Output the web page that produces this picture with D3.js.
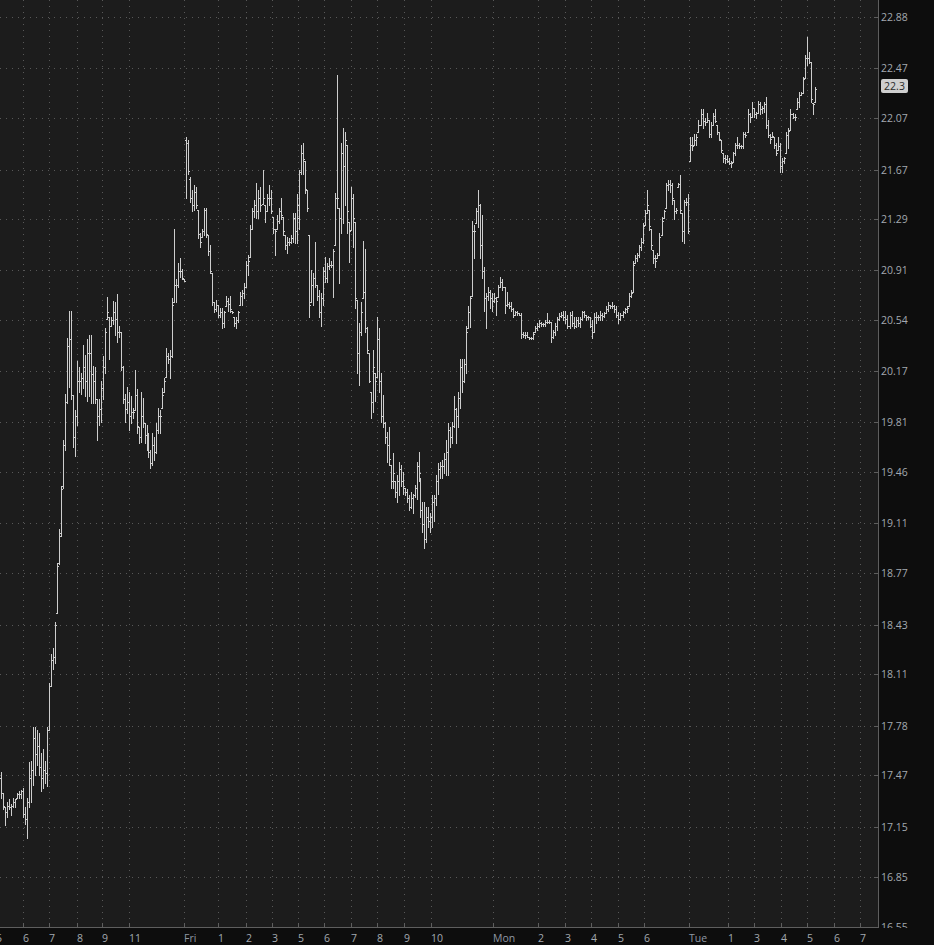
<!DOCTYPE html>
<html>
<head>
<meta charset="utf-8">
<style>
  html, body { margin: 0; padding: 0; background: #0d0d0d; }
  svg { display: block; }
  text { font-family: "Open Sans", sans-serif; }
</style>
<script src="https://cdn.jsdelivr.net/npm/d3@7"></script>
</head>
<body>
<script>
// 5-minute bars
const highs = [
  17.49,17.36,17.27,17.30,17.32,17.29,17.33,17.32,17.36,17.37,
  17.38,17.39,17.27,17.33,17.55,17.56,17.77,17.77,17.75,17.73,
  17.61,17.63,17.56,17.77,18.05,18.24,18.28,18.45,18.84,19.07,
  19.36,19.68,20.01,20.41,20.61,20.61,20.00,19.89,20.24,20.20,
  20.16,20.36,20.29,20.40,20.43,20.43,20.21,20.20,19.97,19.97,
  20.10,20.28,20.48,20.71,20.56,20.56,20.68,20.67,20.73,20.50,
  20.45,20.21,20.01,20.06,20.02,19.99,19.91,20.18,20.04,19.77,
  20.02,19.98,19.80,19.79,19.73,19.61,19.73,19.70,19.80,19.91,
  19.89,20.05,20.12,20.34,20.30,20.32,20.70,21.22,20.84,20.96,
  21.00,20.92,20.84,21.92,21.90,21.61,21.51,21.55,21.54,21.36,
  21.19,21.22,21.38,21.38,21.17,21.10,20.89,20.67,20.69,20.65,
  20.63,20.63,20.61,20.72,20.70,20.72,20.61,20.56,20.56,20.61,
  20.75,20.76,20.81,20.98,21.02,21.25,21.38,21.44,21.57,21.51,
  21.54,21.67,21.40,21.48,21.55,21.51,21.31,21.22,21.32,21.38,
  21.45,21.31,21.17,21.16,21.15,21.17,21.34,21.34,21.48,21.67,
  21.86,21.88,21.74,21.51,21.17,20.91,20.89,21.12,20.80,20.76,
  20.74,20.93,21.01,20.96,21.00,20.98,21.07,21.49,22.41,21.38,
  21.88,21.99,21.96,21.86,21.27,21.54,21.48,21.27,20.69,20.52,
  20.67,21.13,21.07,20.49,20.30,20.02,20.32,20.16,20.56,20.48,
  20.16,20.00,19.81,19.74,19.77,19.51,19.59,19.40,19.44,19.53,
  19.51,19.46,19.35,19.34,19.30,19.32,19.31,19.37,19.53,19.60,
  19.42,19.25,19.25,19.22,19.22,19.18,19.30,19.30,19.44,19.52,
  19.53,19.54,19.59,19.68,19.80,19.77,19.81,19.99,19.91,20.02,
  20.26,20.26,20.26,20.50,20.64,20.72,21.28,21.25,21.38,21.51,
  21.41,21.32,20.93,20.74,20.78,20.76,20.74,20.74,20.71,20.80,
  20.86,20.84,20.78,20.75,20.67,20.67,20.63,20.61,20.61,20.59,
  20.59,20.45,20.45,20.45,20.42,20.42,20.45,20.50,20.52,20.54,
  20.53,20.52,20.54,20.59,20.54,20.53,20.47,20.52,20.56,20.59,
  20.60,20.61,20.61,20.58,20.60,20.61,20.56,20.56,20.56,20.56,
  20.61,20.61,20.58,20.57,20.56,20.54,20.59,20.60,20.58,20.61,
  20.59,20.60,20.64,20.67,20.65,20.67,20.65,20.64,20.60,20.59,
  20.61,20.63,20.64,20.74,20.76,20.98,21.02,21.04,21.10,21.15,
  21.26,21.36,21.51,21.36,21.22,21.06,21.02,21.04,21.19,21.31,
  21.36,21.57,21.59,21.59,21.57,21.44,21.38,21.57,21.63,21.34,
  21.44,21.45,21.48,21.92,21.92,21.95,21.95,22.06,22.14,22.14,
  22.07,22.11,22.06,22.04,22.11,22.14,22.02,21.96,21.90,21.80,
  21.78,21.78,21.76,21.74,21.81,21.88,21.92,21.88,21.86,21.96,
  21.96,22.14,22.11,22.20,22.15,22.12,22.21,22.20,22.17,22.20,
  22.24,22.06,21.95,21.96,21.92,21.88,21.92,21.88,21.76,21.77,
  21.96,21.99,22.14,22.11,22.10,22.23,22.28,22.28,22.40,22.57,
  22.72,22.60,22.52,22.19,22.32
];
const lows = [
  17.33,17.26,17.16,17.21,17.26,17.22,17.27,17.27,17.33,17.33,
  17.33,17.21,17.17,17.08,17.27,17.30,17.41,17.47,17.53,17.47,
  17.37,17.39,17.42,17.40,17.75,18.03,18.14,18.18,18.51,18.83,
  19.02,19.35,19.61,19.94,20.06,19.97,19.63,19.57,19.79,20.02,
  20.01,20.05,19.99,19.96,19.99,19.94,19.94,19.94,19.68,19.79,
  19.81,19.97,20.16,20.55,20.26,20.50,20.51,20.43,20.38,20.42,
  20.18,19.94,19.81,19.87,19.75,19.80,19.84,19.89,19.73,19.66,
  19.67,19.77,19.66,19.61,19.56,19.49,19.51,19.54,19.59,19.73,
  19.73,19.91,20.02,20.13,20.23,20.12,20.27,20.67,20.67,20.78,
  20.86,20.84,20.83,21.45,21.64,21.42,21.35,21.36,21.38,21.15,
  21.08,21.16,21.17,21.16,21.02,20.89,20.65,20.60,20.61,20.56,
  20.56,20.48,20.49,20.64,20.61,20.60,20.59,20.50,20.48,20.53,
  20.65,20.65,20.70,20.78,20.87,21.01,21.22,21.31,21.30,21.30,
  21.35,21.41,21.27,21.35,21.40,21.34,21.19,21.02,21.22,21.26,
  21.29,21.17,21.07,21.04,21.10,21.11,21.12,21.11,21.11,21.22,
  21.64,21.64,21.49,21.35,20.56,20.67,20.65,20.78,20.69,20.56,
  20.50,20.65,20.82,20.82,20.92,20.93,20.71,21.10,21.38,20.81,
  21.19,21.26,21.40,21.19,20.97,21.21,21.08,20.63,20.16,20.07,
  20.43,20.70,20.45,20.30,20.09,19.84,19.88,19.96,20.13,20.02,
  19.81,19.77,19.66,19.53,19.51,19.35,19.35,19.29,19.25,19.30,
  19.36,19.31,19.30,19.25,19.20,19.21,19.18,19.29,19.27,19.40,
  19.15,19.05,18.94,18.98,19.08,19.05,19.08,19.12,19.23,19.31,
  19.42,19.42,19.45,19.44,19.44,19.63,19.66,19.77,19.66,19.77,
  19.91,20.02,20.09,20.16,20.48,20.49,20.72,21.00,21.26,21.23,
  21.00,20.85,20.61,20.48,20.69,20.63,20.61,20.67,20.58,20.71,
  20.78,20.76,20.59,20.64,20.63,20.61,20.56,20.58,20.58,20.58,
  20.41,20.42,20.41,20.42,20.40,20.40,20.40,20.45,20.47,20.49,
  20.50,20.50,20.50,20.52,20.52,20.38,20.41,20.43,20.47,20.54,
  20.56,20.54,20.52,20.48,20.48,20.50,20.48,20.49,20.50,20.49,
  20.54,20.56,20.54,20.55,20.49,20.41,20.45,20.52,20.54,20.54,
  20.54,20.56,20.59,20.61,20.63,20.63,20.60,20.56,20.52,20.54,
  20.56,20.59,20.60,20.64,20.71,20.75,20.96,20.98,21.01,21.06,
  21.11,21.25,21.34,21.21,21.07,20.96,20.93,21.00,21.02,21.17,
  21.30,21.38,21.51,21.50,21.41,21.29,21.34,21.54,21.34,21.13,
  21.11,21.40,21.19,21.74,21.82,21.86,21.86,21.96,22.02,21.99,
  22.02,22.04,21.92,21.92,22.02,22.04,21.95,21.90,21.81,21.73,
  21.72,21.73,21.71,21.69,21.73,21.78,21.84,21.84,21.84,21.84,
  21.92,21.96,22.04,22.08,22.08,22.07,22.11,22.10,22.11,22.12,
  21.99,21.92,21.88,21.92,21.84,21.78,21.82,21.65,21.65,21.72,
  21.80,21.84,21.98,22.07,22.06,22.14,22.16,22.25,22.27,22.39,
  22.49,22.51,22.20,22.10,22.20
];
const opens = [
  17.45,17.36,17.27,17.24,17.28,17.27,17.28,17.30,17.33,17.35,
  17.35,17.37,17.23,17.20,17.30,17.45,17.50,17.70,17.60,17.65,
  17.52,17.45,17.50,17.48,17.75,18.03,18.20,18.22,18.51,18.84,
  19.04,19.36,19.65,19.95,20.35,20.40,20.00,19.70,19.85,20.10,
  20.10,20.12,20.20,20.10,20.30,20.30,20.15,20.10,19.97,19.85,
  19.90,20.05,20.20,20.55,20.56,20.50,20.54,20.60,20.55,20.45,
  20.45,20.20,19.97,19.90,19.95,19.85,19.88,19.89,20.00,19.77,
  19.70,19.85,19.80,19.72,19.65,19.60,19.52,19.65,19.60,19.75,
  19.85,19.91,20.02,20.13,20.28,20.26,20.28,20.67,20.80,20.80,
  20.90,20.90,20.84,21.90,21.88,21.60,21.45,21.40,21.50,21.36,
  21.18,21.16,21.20,21.36,21.17,21.05,20.89,20.67,20.62,20.65,
  20.58,20.60,20.52,20.64,20.68,20.66,20.61,20.56,20.52,20.54,
  20.65,20.72,20.74,20.78,20.95,21.01,21.22,21.35,21.40,21.35,
  21.45,21.41,21.40,21.35,21.45,21.45,21.31,21.22,21.22,21.28,
  21.35,21.31,21.17,21.10,21.12,21.12,21.15,21.30,21.20,21.30,
  21.65,21.80,21.74,21.51,21.17,20.67,20.80,20.85,20.80,20.72,
  20.60,20.70,20.90,20.85,20.94,20.95,20.95,21.10,21.45,21.38,
  21.30,21.80,21.70,21.86,21.27,21.21,21.45,21.27,20.69,20.30,
  20.45,20.70,20.75,20.48,20.30,20.02,19.95,20.16,20.13,20.40,
  20.10,19.85,19.80,19.70,19.65,19.51,19.40,19.40,19.32,19.40,
  19.48,19.40,19.35,19.32,19.28,19.22,19.28,19.30,19.35,19.50,
  19.42,19.20,19.10,19.00,19.15,19.12,19.15,19.25,19.28,19.40,
  19.48,19.50,19.50,19.55,19.60,19.75,19.70,19.78,19.90,19.85,
  19.98,20.20,20.10,20.22,20.48,20.60,20.72,21.20,21.26,21.35,
  21.40,21.10,20.90,20.70,20.72,20.75,20.70,20.68,20.70,20.71,
  20.78,20.82,20.78,20.65,20.66,20.64,20.62,20.58,20.60,20.59,
  20.58,20.44,20.43,20.43,20.42,20.41,20.41,20.45,20.48,20.50,
  20.52,20.51,20.51,20.53,20.53,20.53,20.42,20.45,20.50,20.55,
  20.57,20.58,20.56,20.55,20.50,20.58,20.52,20.50,20.54,20.52,
  20.55,20.60,20.58,20.56,20.56,20.50,20.45,20.56,20.56,20.56,
  20.58,20.57,20.59,20.62,20.65,20.64,20.64,20.62,20.58,20.55,
  20.58,20.60,20.62,20.64,20.72,20.75,20.96,21.00,21.02,21.08,
  21.12,21.25,21.34,21.36,21.22,21.06,21.00,21.00,21.02,21.17,
  21.30,21.38,21.55,21.56,21.55,21.44,21.35,21.54,21.56,21.34,
  21.20,21.42,21.42,21.74,21.86,21.86,21.90,21.96,22.02,22.10,
  22.05,22.04,22.06,21.95,22.02,22.09,22.02,21.96,21.90,21.80,
  21.76,21.75,21.74,21.72,21.73,21.80,21.86,21.86,21.85,21.85,
  21.95,21.96,22.10,22.08,22.15,22.10,22.11,22.18,22.14,22.15,
  22.18,22.02,21.94,21.92,21.92,21.86,21.82,21.85,21.70,21.74,
  21.80,21.94,21.98,22.10,22.08,22.14,22.20,22.25,22.27,22.39,
  22.55,22.55,22.52,22.19,22.20
];
const closes = [
  17.36,17.28,17.24,17.28,17.27,17.28,17.30,17.32,17.35,17.35,
  17.37,17.23,17.20,17.30,17.45,17.50,17.70,17.60,17.65,17.52,
  17.45,17.50,17.48,17.75,18.03,18.20,18.22,18.43,18.82,19.02,
  19.34,19.65,19.95,20.35,20.40,20.00,19.70,19.85,20.10,20.10,
  20.12,20.20,20.10,20.30,20.30,20.15,20.10,19.97,19.85,19.90,
  20.05,20.20,20.45,20.60,20.50,20.54,20.60,20.55,20.45,20.45,
  20.20,19.97,19.90,19.95,19.85,19.88,19.88,20.00,19.78,19.70,
  19.85,19.80,19.72,19.65,19.60,19.52,19.65,19.60,19.75,19.85,
  19.85,20.00,20.10,20.28,20.26,20.28,20.65,20.80,20.80,20.90,
  20.90,20.85,20.83,21.88,21.66,21.45,21.40,21.50,21.40,21.18,
  21.12,21.20,21.36,21.18,21.05,20.90,20.67,20.62,20.65,20.58,
  20.60,20.52,20.60,20.68,20.66,20.62,20.60,20.52,20.54,20.60,
  20.72,20.74,20.78,20.95,20.98,21.22,21.35,21.40,21.35,21.45,
  21.40,21.45,21.35,21.45,21.45,21.35,21.22,21.20,21.28,21.35,
  21.32,21.20,21.10,21.12,21.12,21.15,21.30,21.20,21.40,21.65,
  21.80,21.75,21.52,21.38,20.65,20.80,20.85,20.80,20.72,20.60,
  20.70,20.90,20.85,20.94,20.95,20.95,21.05,21.45,21.45,21.30,
  21.80,21.70,21.90,21.35,21.20,21.45,21.30,20.70,20.30,20.45,
  20.60,20.75,20.48,20.32,20.10,19.95,20.20,20.10,20.40,20.10,
  19.85,19.80,19.70,19.65,19.55,19.40,19.45,19.32,19.40,19.48,
  19.40,19.36,19.32,19.28,19.22,19.28,19.30,19.35,19.50,19.45,
  19.20,19.10,19.00,19.15,19.12,19.15,19.25,19.28,19.40,19.48,
  19.50,19.50,19.55,19.60,19.75,19.70,19.78,19.90,19.85,19.98,
  20.20,20.10,20.22,20.45,20.60,20.70,21.20,21.20,21.35,21.40,
  21.10,20.90,20.70,20.72,20.75,20.70,20.68,20.70,20.68,20.78,
  20.82,20.78,20.65,20.66,20.64,20.62,20.58,20.60,20.59,20.58,
  20.44,20.43,20.43,20.42,20.41,20.41,20.44,20.48,20.50,20.52,
  20.51,20.51,20.53,20.53,20.53,20.42,20.45,20.50,20.55,20.57,
  20.58,20.56,20.55,20.50,20.58,20.52,20.50,20.54,20.52,20.55,
  20.60,20.58,20.56,20.56,20.50,20.45,20.56,20.56,20.56,20.58,
  20.57,20.59,20.62,20.65,20.64,20.64,20.62,20.58,20.55,20.58,
  20.60,20.62,20.63,20.72,20.74,20.95,21.00,21.02,21.08,21.12,
  21.24,21.34,21.40,21.24,21.10,21.00,20.98,21.02,21.16,21.28,
  21.35,21.55,21.56,21.55,21.45,21.35,21.36,21.56,21.36,21.20,
  21.42,21.42,21.20,21.86,21.85,21.90,21.92,22.02,22.10,22.05,
  22.04,22.06,21.95,22.02,22.09,22.05,21.96,21.91,21.82,21.76,
  21.75,21.74,21.72,21.72,21.80,21.86,21.86,21.85,21.85,21.95,
  21.94,22.10,22.08,22.15,22.10,22.11,22.18,22.14,22.15,22.18,
  22.02,21.94,21.91,21.93,21.86,21.80,21.85,21.70,21.74,21.76,
  21.94,21.97,22.10,22.08,22.08,22.20,22.25,22.27,22.38,22.55,
  22.55,22.52,22.22,22.18,22.30
];

// price axis labels (log spaced)
const priceTicks = [22.88, 22.47, 22.07, 21.67, 21.29, 20.91, 20.54, 20.17, 19.81,
  19.46, 19.11, 18.77, 18.43, 18.11, 17.78, 17.47, 17.15, 16.85, 16.55];

// time axis: position given in bar index, label text
const timeTickPos = [-2.5, 11.15, 24.15, 37.85, 50.65, 64.2, 92.3, 109.1, 122.7, 135.5,
  148.7, 161.6, 175.1, 188.2, 201.8, 215.1, 246.5, 268.5, 281.8, 294.6, 307.8, 320.5,
  342.5, 361.4, 374.3, 387.4, 400.1, 413.3, 426];
const timeTickLabels = ["5", "6", "7", "8", "9", "11", "Fri", "1", "2", "3",
  "5", "6", "7", "8", "9", "10", "Mon", "2", "3", "4", "5", "6",
  "Tue", "1", "3", "4", "5", "6", "7"];

const width = 934;
const height = 945;
const plotRight = 878;
const plotBottom = 927;

const svg = d3.select("body").append("svg")
  .attr("width", width)
  .attr("height", height);

svg.append("rect")
  .attr("width", width)
  .attr("height", height)
  .attr("fill", "#0d0d0d");

svg.append("rect")
  .attr("width", plotRight)
  .attr("height", plotBottom)
  .attr("fill", "#1c1c1c");

svg.append("defs").append("clipPath")
  .attr("id", "plot-clip")
  .append("rect")
  .attr("width", plotRight)
  .attr("height", plotBottom);

// bar index -> x; sessions are not perfectly even on the screen
const xScale = d3.scaleLinear()
  .domain([0, 62, 93, 168, 236, 300, 343, highs.length - 1])
  .range([1, 125, 185.7, 337.3, 472, 602, 690.3, 815]);

const yScale = d3.scaleLog()
  .domain([16.55, 22.88])
  .range([927, 17]);

const px = v => Math.round(xScale(v));
const py = v => Math.round(yScale(v));

// dotted grid
const grid = svg.append("g")
  .attr("clip-path", "url(#plot-clip)")
  .attr("stroke", "#585858")
  .attr("stroke-width", 1)
  .attr("stroke-dasharray", "1,5");

grid.selectAll(".hgrid")
  .data(priceTicks)
  .join("line")
  .attr("class", "hgrid")
  .attr("x1", 0)
  .attr("x2", plotRight)
  .attr("y1", d => py(d) + 0.5)
  .attr("y2", d => py(d) + 0.5);

grid.selectAll(".vgrid")
  .data(timeTickPos)
  .join("line")
  .attr("class", "vgrid")
  .attr("x1", d => px(d) + 0.5)
  .attr("x2", d => px(d) + 0.5)
  .attr("y1", 0)
  .attr("y2", plotBottom);

// OHLC bars
svg.append("g")
  .attr("clip-path", "url(#plot-clip)")
  .attr("stroke", "#cdcdcd")
  .attr("stroke-width", 1)
  .attr("fill", "none")
  .attr("shape-rendering", "crispEdges")
  .selectAll("path")
  .data(d3.range(highs.length))
  .join("path")
  .attr("d", i => {
    const c = px(i);
    const yh = py(highs[i]);
    const yl = py(lows[i]);
    const yo = py(opens[i]) + 0.5;
    const yc = py(closes[i]) + 0.5;
    return `M${c + 0.5},${yh}V${yl + 1}M${c - 1},${yo}H${c}M${c + 1},${yc}H${c + 2}`;
  });

// right price axis
const yAxisG = svg.append("g");
yAxisG.append("line")
  .attr("x1", plotRight + 0.5)
  .attr("x2", plotRight + 0.5)
  .attr("y1", 0)
  .attr("y2", plotBottom + 1)
  .attr("stroke", "#5e5e5e");

yAxisG.selectAll(".ytick")
  .data(priceTicks)
  .join("line")
  .attr("class", "ytick")
  .attr("x1", plotRight - 4)
  .attr("x2", plotRight)
  .attr("y1", d => py(d) + 0.5)
  .attr("y2", d => py(d) + 0.5)
  .attr("stroke", "#5e5e5e");

yAxisG.selectAll(".ylabel")
  .data(priceTicks)
  .join("text")
  .attr("class", "ylabel")
  .attr("x", plotRight + 3)
  .attr("y", d => py(d) + 0.5)
  .attr("dy", "0.36em")
  .attr("font-size", "10.5px")
  .attr("fill", "#a3a9b0")
  .text(d => d.toFixed(2));

// last price badge
const last = closes[closes.length - 1];
const badge = svg.append("g").attr("transform", `translate(${plotRight + 3},${py(last) - 3})`);
badge.append("rect")
  .attr("x", 0)
  .attr("y", -7)
  .attr("width", 27)
  .attr("height", 14)
  .attr("rx", 2)
  .attr("fill", "#cfcfcf");
badge.append("text")
  .attr("x", 13.5)
  .attr("y", 0)
  .attr("dy", "0.36em")
  .attr("text-anchor", "middle")
  .attr("font-size", "10.5px")
  .attr("fill", "#2a2a2a")
  .text(String(+last.toFixed(2)));

// bottom time axis
svg.append("rect")
  .attr("x", 0)
  .attr("y", plotBottom + 1)
  .attr("width", width)
  .attr("height", height - plotBottom - 1)
  .attr("fill", "#0d0d0d");

const xAxisG = svg.append("g");
xAxisG.append("line")
  .attr("x1", 0)
  .attr("x2", plotRight + 1)
  .attr("y1", plotBottom + 0.5)
  .attr("y2", plotBottom + 0.5)
  .attr("stroke", "#5e5e5e");

xAxisG.selectAll(".xtick")
  .data(timeTickPos)
  .join("line")
  .attr("class", "xtick")
  .attr("x1", d => px(d) + 0.5)
  .attr("x2", d => px(d) + 0.5)
  .attr("y1", plotBottom - 4)
  .attr("y2", plotBottom)
  .attr("stroke", "#5e5e5e");

xAxisG.selectAll(".xlabel")
  .data(timeTickPos)
  .join("text")
  .attr("class", "xlabel")
  .attr("x", d => px(d))
  .attr("y", 942)
  .attr("font-size", "10.5px")
  .attr("fill", (d, i) => /^[A-Z]/.test(timeTickLabels[i]) ? "#8f98a4" : "#a3a9b0")
  .text((d, i) => timeTickLabels[i]);
</script>
</body>
</html>
